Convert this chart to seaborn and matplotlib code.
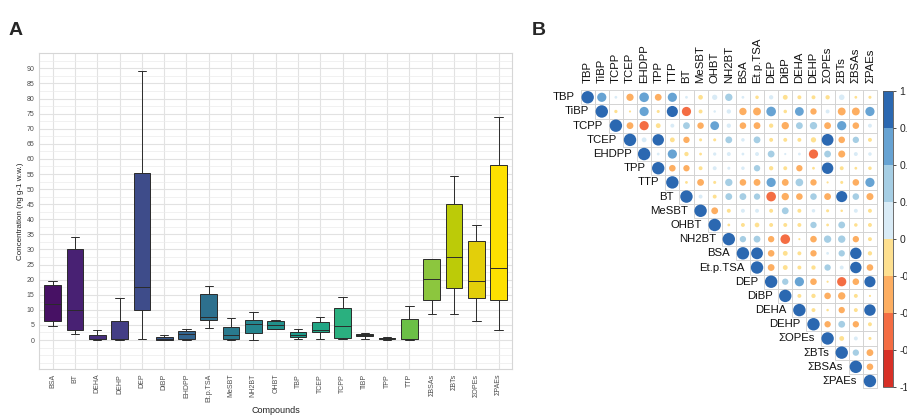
import numpy as np
import pandas as pd
import matplotlib
matplotlib.use("Agg")
import matplotlib.pyplot as plt
from matplotlib.colors import ListedColormap, BoundaryNorm
from matplotlib.cm import ScalarMappable
from matplotlib.patches import Rectangle
from matplotlib.collections import PatchCollection
from matplotlib.ticker import MultipleLocator
import seaborn as sns

W, H = 907, 417

# ---------------- panel A data (box stats) ----------------
compounds = ["BSA", "BT", "DEHA", "DEHP", "DEP", "DiBP", "EHDPP", "Et.p.TSA", "MeSBT",
             "NH2BT", "OHBT", "TBP", "TCEP", "TCPP", "TiBP", "TPP", "TTP",
             "ΣBSAs", "ΣBTs", "ΣOPEs", "ΣPAEs"]
whisker_lo = [4.6, 1.9, 0.0, 0.0, 0.2, 0.0, 0.0, 3.9, 0.0, 0.0, 3.5, 0.2, 0.2, 0.2, 0.3, 0.1, 0.0,
              8.7, 8.7, 6.2, 3.2]
q1 = [6.3, 3.4, 0.2, 0.2, 9.9, 0.15, 0.3, 6.8, 0.3, 2.4, 3.6, 0.9, 2.5, 0.8, 1.2, 0.3, 0.3,
      13.4, 17.2, 13.8, 13.3]
median = [11.8, 9.8, 0.3, 0.3, 17.5, 0.4, 2.0, 7.5, 1.8, 5.2, 5.1, 1.6, 3.2, 4.8, 1.7, 0.55, 0.4,
          20.2, 27.6, 19.7, 23.8]
q3 = [18.1, 30.0, 1.8, 6.4, 55.3, 0.9, 3.0, 15.3, 4.3, 6.8, 6.3, 2.6, 5.9, 10.6, 2.2, 0.8, 7.0,
      26.9, 45.0, 32.8, 58.1]
whisker_hi = [19.6, 34.3, 3.4, 14.0, 89.1, 1.5, 3.5, 17.8, 7.2, 9.4, 6.5, 3.5, 7.7, 14.2, 2.1, 0.9, 11.2,
              27.0, 54.3, 38.2, 74.0]

# fill colours (viridis, with the yellow end as it appears in the picture)
box_colors = sns.color_palette("viridis", len(compounds)).as_hex()
box_colors[16:] = ["#6bbf47", "#8cc63e", "#bccb08", "#e3cf0a", "#fee000"]

# ---------------- panel B data (upper triangle of the correlation matrix) ----------------
variables = ["TBP", "TiBP", "TCPP", "TCEP", "EHDPP", "TPP", "TTP", "BT", "MeSBT", "OHBT",
             "NH2BT", "BSA", "Et.p.TSA", "DEP", "DiBP", "DEHA", "DEHP",
             "ΣOPEs", "ΣBTs", "ΣBSAs", "ΣPAEs"]
r_TBP = [0.55, 0.05, -0.34, 0.6, -0.3, 0.55, 0.05, -0.14, 0.18, 0.35, 0.05, -0.08, 0.12, -0.15,
         -0.1, -0.1, -0.12, 0.2, -0.05, -0.06]
r_TiBP = [-0.07, -0.03, 0.55, -0.06, 0.8, -0.55, -0.1, 0.04, 0.12, -0.35, -0.4, 0.6, -0.08, 0.5,
          -0.26, 0.1, -0.4, -0.4, 0.55]
r_TCPP = [-0.3, -0.55, -0.15, 0.1, 0.3, -0.27, 0.5, 0.12, -0.28, -0.3, -0.12, -0.35, 0.3, 0.35,
          -0.3, 0.55, -0.28, 0.1]
r_TCEP = [0.15, 0.85, -0.15, -0.26, -0.06, -0.06, 0.3, 0.08, 0.3, -0.1, -0.1, -0.1, -0.18, 0.9,
          -0.28, 0.26, -0.1]
r_EHDPP = [0.05, 0.55, -0.12, -0.05, 0.07, 0.1, 0.05, 0.1, 0.3, 0.03, 0.05, -0.55, 0.3, -0.32, 0.1, 0.08]
r_TPP = [-0.28, -0.26, -0.1, 0.1, 0.06, 0.08, 0.26, -0.12, -0.1, -0.26, -0.05, 0.85, -0.1, -0.05, -0.08]
r_TTP = [-0.05, -0.3, -0.06, 0.35, -0.28, -0.3, 0.55, -0.3, 0.38, -0.26, -0.03, -0.06, -0.28, 0.55]
r_BT = [0.1, -0.1, 0.3, 0.3, 0.26, -0.6, -0.35, -0.28, 0.28, -0.3, 0.8, 0.28, -0.32]
r_MeSBT = [-0.3, -0.1, 0.1, 0.1, -0.1, 0.3, -0.1, 0.08, -0.06, -0.04, 0.1, -0.1]
r_OHBT = [-0.05, -0.1, -0.14, -0.1, -0.1, -0.1, 0.26, -0.05, 0.3, -0.08, -0.1]
r_NH2BT = [0.26, 0.3, -0.26, -0.6, -0.03, -0.28, 0.35, 0.35, -0.26, -0.1]
r_BSA = [0.9, -0.28, -0.15, -0.1, -0.26, 0.05, 0.26, 0.85, -0.12]
r_EtpTSA = [-0.3, -0.15, -0.1, -0.12, 0.26, 0.1, 0.85, -0.28]
r_DEP = [0.26, 0.55, -0.28, -0.03, -0.55, -0.28, 0.8]
r_DiBP = [-0.1, -0.12, -0.28, -0.35, -0.1, -0.03]
r_DEHA = [-0.1, -0.04, -0.26, -0.1, 0.85]
r_DEHP = [-0.26, 0.3, -0.26, -0.1]
r_OPEs = [-0.15, 0.1, -0.06]
r_BTs = [0.26, -0.3]
r_BSAs = [-0.28]

corr_rows = [r_TBP, r_TiBP, r_TCPP, r_TCEP, r_EHDPP, r_TPP, r_TTP, r_BT, r_MeSBT, r_OHBT,
             r_NH2BT, r_BSA, r_EtpTSA, r_DEP, r_DiBP, r_DEHA, r_DEHP, r_OPEs, r_BTs, r_BSAs, []]

cb_colors = ["#d73027", "#f46d43", "#fdae61", "#fee090", "#d9ebf6", "#a6cee4", "#67a3d3", "#2b68b1"]
cb_ticks = [-1, -0.75, -0.5, -0.25, 0, 0.25, 0.5, 0.75, 1]

sns.set_style("white")
plt.rcParams["font.family"] = ["Liberation Sans", "DejaVu Sans"]

fig = plt.figure(figsize=(W / 100, H / 100), dpi=100)

# ---------------- panel A ----------------
ax = fig.add_axes([39.3 / W, 1 - 369 / H, (512 - 39.3) / W, (369 - 53.3) / H])
rows = []
for k, c in enumerate(compounds):
    for v in (whisker_lo[k], q1[k], median[k], q3[k], whisker_hi[k]):
        rows.append({"compound": c, "value": v})
df = pd.DataFrame(rows)
sns.boxplot(data=df, x="compound", y="value", hue="compound", order=compounds,
            hue_order=compounds, palette=box_colors, saturation=1, width=0.75,
            linecolor="#2b2b2b", linewidth=0.7, legend=False, ax=ax)

ax.set_xlim(-0.6, 20.6)
ax.set_ylim(-9.6, 95)
ax.yaxis.set_minor_locator(MultipleLocator(2.5))
ax.set_yticks(np.arange(0, 91, 5))
ax.set_axisbelow(True)
ax.grid(which="major", color="#e2e2e2", lw=0.8)
ax.grid(which="minor", axis="y", color="#ececec", lw=0.5)
for s in ax.spines.values():
    s.set_color("#d6d6d6")
    s.set_linewidth(0.8)
ax.tick_params(axis="both", which="major", labelsize=5, labelcolor="#4d4d4d",
               color="#aaaaaa", length=2, width=0.5, pad=1.5)
ax.tick_params(axis="y", which="minor", length=0)
ax.tick_params(axis="x", labelrotation=90)
ax.set_xlabel("Compounds", fontsize=6.5, color="#222222", labelpad=3)
ax.set_ylabel("Concentration (ng g-1 w.w.)", fontsize=5.8, color="#222222", labelpad=2)

# ---------------- panel B ----------------
n = len(variables)
corr = np.eye(n)
for i, row in enumerate(corr_rows):
    for k, v in enumerate(row):
        corr[i, i + 1 + k] = v
        corr[i + 1 + k, i] = v

ax2 = fig.add_axes([580.6 / W, 1 - 388.1 / H, (877 - 580.6) / W, (388.1 - 90.2) / H])
ax2.set_xlim(0, n)
ax2.set_ylim(n, 0)
ax2.axis("off")
iu, ju = np.triu_indices(n)
cells = [Rectangle((j, i), 1, 1) for i, j in zip(iu, ju)]
ax2.add_collection(PatchCollection(cells, facecolor="white", edgecolor="#d0d0d0",
                                   linewidth=0.6, clip_on=False, zorder=1))

cmap = ListedColormap(cb_colors)
norm = BoundaryNorm(cb_ticks, cmap.N)
vals = corr[iu, ju]
cell_pt = 14.12 * 72 / 100
circle_df = pd.DataFrame({"x": ju + 0.5, "y": iu + 0.5, "r": vals})
ax2.scatter(circle_df["x"], circle_df["y"], s=(0.88 * cell_pt) ** 2 * circle_df["r"].abs(),
            c=[cmap(norm(min(v, 0.999))) for v in circle_df["r"]],
            linewidths=0, zorder=3, clip_on=False)

for i, name in enumerate(variables):
    ax2.text(i - 0.4, i + 0.5, name, ha="right", va="center", fontsize=8.2, color="#111111")
    ax2.text(i + 0.5, -0.5, name, ha="center", va="bottom", rotation=90, fontsize=8.2,
             color="#111111")

cax = fig.add_axes([882.7 / W, 1 - 386.7 / H, 10.6 / W, (386.7 - 90.7) / H])
cb = fig.colorbar(ScalarMappable(norm=norm, cmap=cmap), cax=cax, ticks=cb_ticks)
cb.ax.set_yticklabels(["-1", "-0.75", "-0.5", "-0.25", "0", "0.25", "0.5", "0.75", "1"])
cb.ax.tick_params(labelsize=7.5, length=2.5, width=0.6, pad=2, color="#333333")
cb.outline.set_linewidth(0.6)
cb.outline.set_edgecolor("#555555")

fig.text(9 / W, 1 - 35 / H, "A", fontsize=14, fontweight="bold")
fig.text(532 / W, 1 - 35 / H, "B", fontsize=14, fontweight="bold")

fig.savefig("out.png", dpi=100)
